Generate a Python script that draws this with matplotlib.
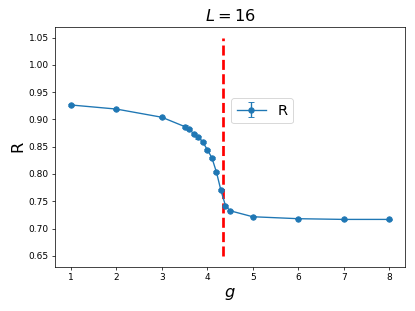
import numpy as np
import matplotlib
matplotlib.use("Agg")
from matplotlib import pyplot as plt

g = [1, 2, 3, 3.5, 3.6, 3.7, 3.8, 3.9, 4.0, 4.1, 4.2, 4.3, 4.4, 4.5, 5, 6, 7, 8]
R = [0.9265, 0.919, 0.904, 0.887, 0.882, 0.874, 0.867, 0.859, 0.8445, 0.830,
     0.804, 0.770, 0.742, 0.7326, 0.7216, 0.718, 0.7167, 0.7167]
R_err = [0.001, 0.001, 0.001, 0.002, 0.002, 0.002, 0.002, 0.002, 0.002, 0.002,
         0.002, 0.002, 0.002, 0.001, 0.001, 0.001, 0.001, 0.001]
g_c = 4.35

fig = plt.figure(figsize=(415 / 65, 311 / 65), dpi=65)
ax = fig.add_axes([55 / 415, 1 - 266.7 / 311, 350 / 415, 240 / 311])

ax.errorbar(g, R, yerr=R_err, marker="o", capsize=3, label="R")
ax.vlines(g_c, 0.65, 1.05, colors="red", linestyles="--", linewidth=3)

ax.set_title("$L=16$", fontsize=18)
ax.set_xlabel("$g$", fontsize=18)
ax.set_ylabel("R", fontsize=18)
ax.legend(loc="center left", bbox_to_anchor=(0.503, 0.65), borderaxespad=0,
          fontsize=16)

fig.savefig("out.png", dpi=65)
